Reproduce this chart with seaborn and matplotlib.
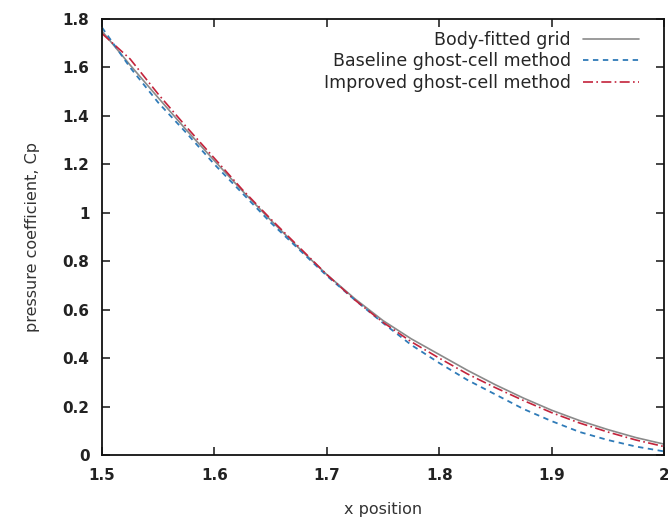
import matplotlib
matplotlib.use("Agg")
import matplotlib.pyplot as plt
import seaborn as sns
from matplotlib.ticker import FuncFormatter

# x positions along the surface
x_pos = [1.500, 1.525, 1.550, 1.575, 1.600, 1.625, 1.650, 1.675, 1.700, 1.725, 1.750,
         1.775, 1.800, 1.825, 1.850, 1.875, 1.900, 1.925, 1.950, 1.975, 2.000]

# pressure coefficient
cp_body = [1.750, 1.610, 1.475, 1.342, 1.215, 1.090, 0.970, 0.855, 0.745, 0.645, 0.555,
           0.480, 0.415, 0.350, 0.290, 0.235, 0.185, 0.142, 0.105, 0.072, 0.045]
cp_base = [1.765, 1.600, 1.455, 1.330, 1.200, 1.080, 0.960, 0.850, 0.740, 0.640, 0.545,
           0.455, 0.380, 0.310, 0.250, 0.190, 0.140, 0.095, 0.062, 0.035, 0.015]
cp_impr = [1.740, 1.635, 1.490, 1.355, 1.225, 1.095, 0.975, 0.860, 0.745, 0.640, 0.548,
           0.468, 0.400, 0.335, 0.278, 0.225, 0.175, 0.132, 0.095, 0.062, 0.035]

labels = ["Body-fitted grid", "Baseline ghost-cell method", "Improved ghost-cell method"]

sns.set_style("ticks")
plt.rcParams['font.family'] = ['DejaVu Sans']

fig = plt.figure(figsize=(6.68, 5.25), dpi=100)
ax = fig.add_axes([0.1527, 0.1333, 0.8413, 0.8305])

# draw the three curves
sns.lineplot(x=x_pos, y=cp_body, ax=ax, color="#8a8a8a", lw=1.2, label=labels[0])
sns.lineplot(x=x_pos, y=cp_base, ax=ax, color="#2f7bb8", lw=1.3, label=labels[1])
sns.lineplot(x=x_pos, y=cp_impr, ax=ax, color="#c4233b", lw=1.2, label=labels[2])
ax.lines[1].set_dashes((3, 2.5))
ax.lines[2].set_dashes((6, 2, 1, 2))

ax.set_xlim(1.5, 2.0)
ax.set_ylim(0, 1.8)
ax.set_xticks([1.5, 1.6, 1.7, 1.8, 1.9, 2.0])
ax.set_yticks([0, 0.2, 0.4, 0.6, 0.8, 1.0, 1.2, 1.4, 1.6, 1.8])
ax.xaxis.set_major_formatter(FuncFormatter(lambda v, p: "%g" % round(v, 2)))
ax.yaxis.set_major_formatter(FuncFormatter(lambda v, p: "%g" % round(v, 2)))

# gnuplot-like inward ticks on every side
ax.tick_params(direction="in", top=True, right=True, length=6, width=1.2,
               labelsize=11)
ax.tick_params(axis="x", pad=9)
ax.tick_params(axis="y", pad=9)
for lab in ax.get_xticklabels() + ax.get_yticklabels():
    lab.set_fontweight("bold")
    lab.set_color("#222222")
for sp in ax.spines.values():
    sp.set_linewidth(1.3)
    sp.set_color("#111111")

ax.set_xlabel("x position", fontsize=11.5, color="#333333", labelpad=14)
ax.set_ylabel("pressure coefficient, Cp", fontsize=11.5, color="#333333", labelpad=16)

leg = ax.legend(loc="upper right", bbox_to_anchor=(0.955, 0.973), frameon=False,
                markerfirst=False, fontsize=12.5, handlelength=3.2, handletextpad=0.7,
                labelspacing=0.2, borderaxespad=0, borderpad=0)

fig.savefig("out.png", dpi=100)
